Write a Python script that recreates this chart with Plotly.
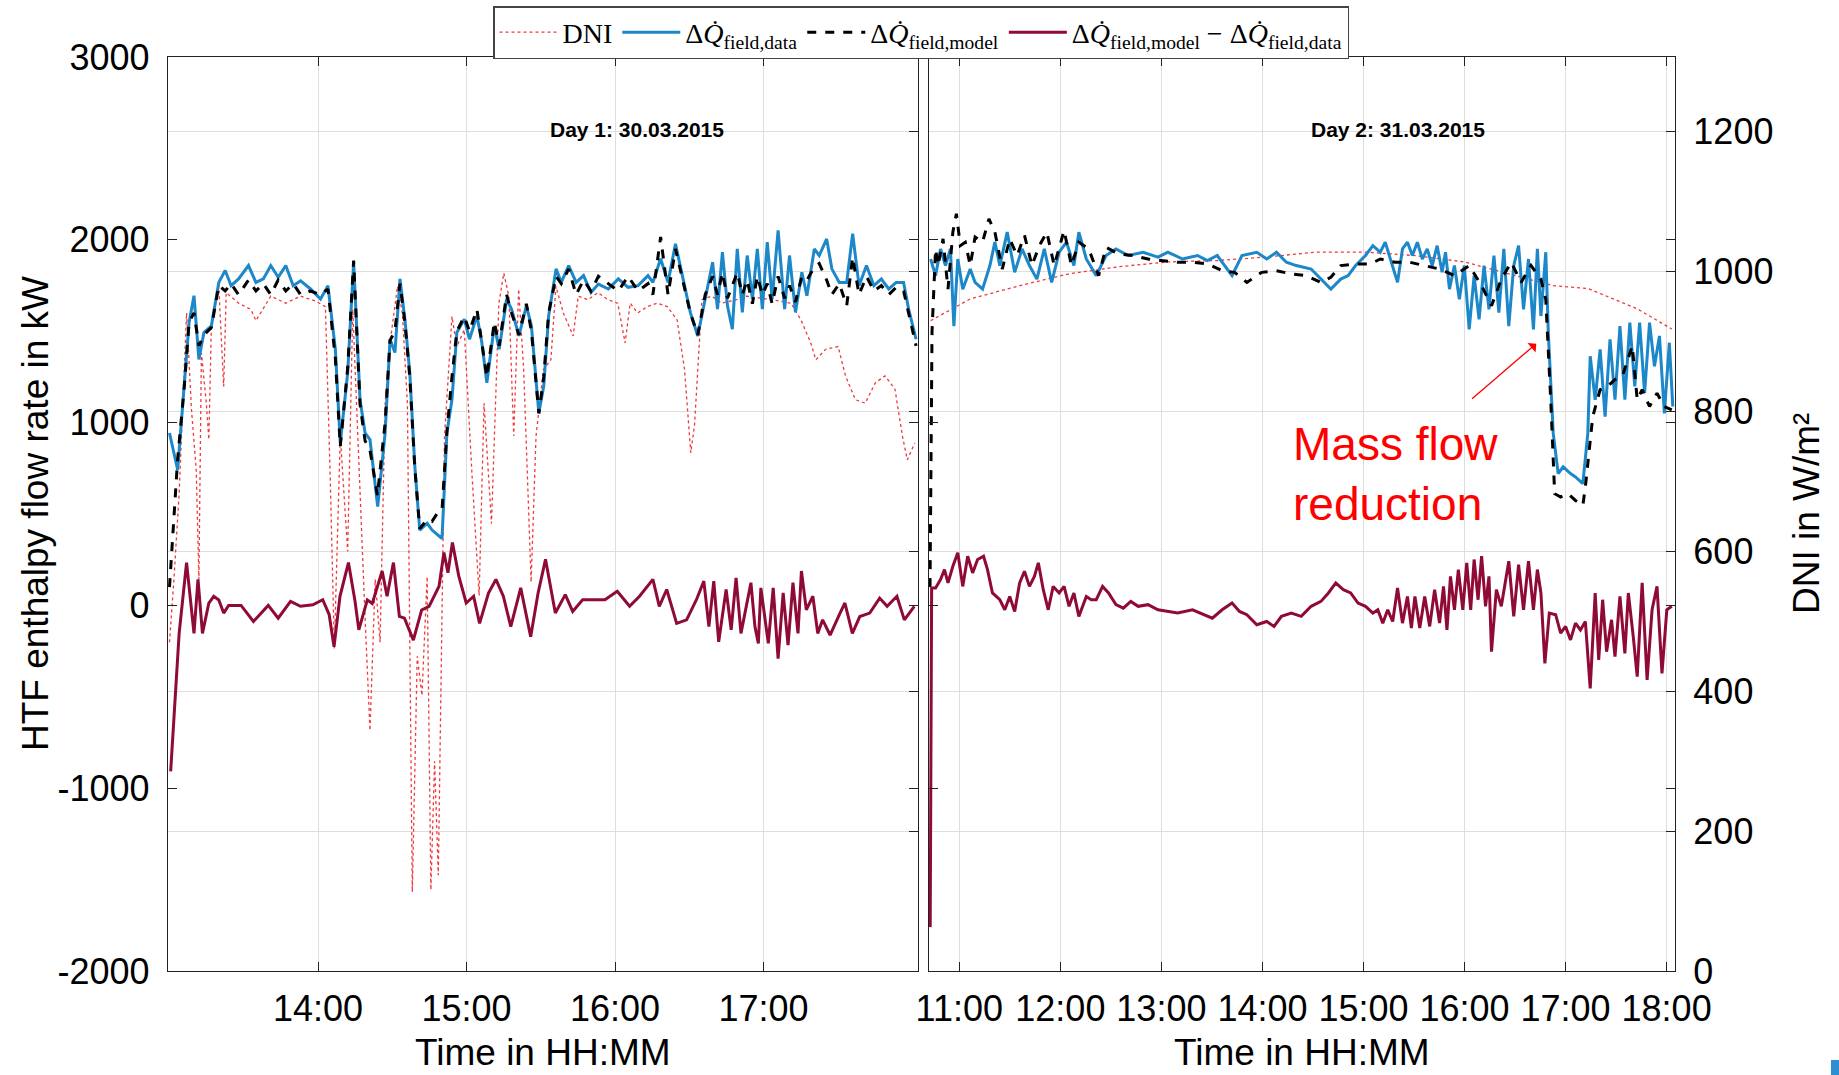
import plotly.graph_objects as go

# ---------------- Day 1: 30.03.2015 (time in decimal hours) ----------------
d1_dni_t = [13.000, 13.03, 13.065, 13.115, 13.148, 13.18, 13.198, 13.215, 13.248, 13.265, 13.282, 13.332,
            13.365, 13.382, 13.465, 13.548, 13.582, 13.682, 13.783, 13.883, 13.983, 14.05, 14.083, 14.11,
            14.15, 14.20, 14.234, 14.284, 14.318, 14.35, 14.385, 14.418, 14.452, 14.485, 14.535, 14.568,
            14.602, 14.635, 14.668, 14.70, 14.735, 14.76, 14.785, 14.81, 14.852, 14.902, 14.935, 14.985,
            15.035, 15.085, 15.118, 15.168, 15.218, 15.251, 15.285, 15.318, 15.351, 15.385, 15.435, 15.468,
            15.518, 15.568, 15.602, 15.652, 15.718, 15.752, 15.818, 15.885, 15.952, 16.018, 16.068, 16.102,
            16.152, 16.218, 16.285, 16.352, 16.418, 16.468, 16.51, 16.535, 16.585, 16.652, 16.718, 16.818,
            16.885, 17.052, 17.185, 17.252, 17.318, 17.352, 17.418, 17.502, 17.552, 17.618, 17.685, 17.752,
            17.818, 17.885, 17.935, 17.968, 18.018]
d1_dni = [470, 560, 683, 941, 803, 717, 560, 884, 812, 760, 922, 979,
          836, 970, 955, 946, 930, 965, 955, 965, 958, 950, 700, 461,
          765, 600, 946, 669, 500, 344, 560, 470, 812, 898, 979, 941,
          812, 113, 450, 394, 564, 116, 300, 137, 765, 936, 893, 917,
          717, 537, 812, 640, 955, 998, 965, 765, 975, 860, 556, 765,
          860, 874, 979, 941, 908, 965, 960, 970, 960, 955, 898, 955,
          941, 950, 955, 950, 931, 860, 741, 780, 960, 965, 955, 960,
          965, 960, 955, 931, 898, 874, 889, 893, 851, 817, 812, 841,
          851, 832, 765, 731, 755]

d1_data_t = [13.000, 13.055, 13.132, 13.165, 13.198, 13.232, 13.282, 13.332, 13.375, 13.415, 13.465, 13.532,
             13.582, 13.632, 13.682, 13.732, 13.783, 13.833, 13.883, 13.95, 14.017, 14.067, 14.117, 14.15,
             14.2, 14.24, 14.283, 14.317, 14.35, 14.402, 14.452, 14.485, 14.518, 14.552, 14.585, 14.618,
             14.652, 14.685, 14.735, 14.768, 14.835, 14.868, 14.902, 14.935, 14.985, 15.02, 15.07, 15.103,
             15.137, 15.187, 15.22, 15.27, 15.303, 15.353, 15.403, 15.437, 15.487, 15.52, 15.553, 15.603,
             15.638, 15.688, 15.738, 15.788, 15.838, 15.888, 15.955, 16.022, 16.088, 16.155, 16.222, 16.255,
             16.307, 16.357, 16.407, 16.457, 16.507, 16.557, 16.607, 16.657, 16.69, 16.723, 16.757, 16.79,
             16.823, 16.857, 16.89, 16.925, 16.958, 16.992, 17.025, 17.058, 17.098, 17.142, 17.175, 17.215,
             17.258, 17.292, 17.342, 17.375, 17.425, 17.46, 17.51, 17.56, 17.6, 17.643, 17.693, 17.743,
             17.793, 17.843, 17.893, 17.943, 17.977, 18.027]
d1_data = [943, 742, 1548, 1694, 1346, 1493, 1529, 1767, 1832, 1749, 1786, 1859,
           1767, 1786, 1859, 1795, 1859, 1749, 1776, 1731, 1676, 1749, 1401, 888,
           1273, 1877, 1126, 943, 907, 540, 943, 1456, 1383, 1786, 1566, 1273,
           760, 412, 449, 412, 366, 943, 1126, 1493, 1566, 1456, 1584, 1438,
           1218, 1529, 1401, 1676, 1621, 1474, 1639, 1529, 1053, 1200, 1584, 1841,
           1767, 1859, 1767, 1804, 1712, 1758, 1731, 1786, 1740, 1749, 1804, 1767,
           1896, 1767, 1978, 1786, 1603, 1474, 1676, 1877, 1621, 1932, 1639, 1511,
           1950, 1603, 1914, 1676, 1950, 1621, 1987, 1676, 2051, 1621, 1914, 1603,
           1822, 1694, 1950, 1914, 2005, 1841, 1767, 1767, 2033, 1749, 1859, 1749,
           1786, 1731, 1767, 1767, 1621, 1456]

d1_model_t = [13.000, 13.033, 13.055, 13.10, 13.132, 13.165, 13.198, 13.232, 13.282, 13.332, 13.375, 13.415,
              13.465, 13.532, 13.582, 13.632, 13.682, 13.732, 13.783, 13.833, 13.883, 13.95, 14.017, 14.067,
              14.117, 14.15, 14.20, 14.24, 14.283, 14.317, 14.35, 14.40, 14.452, 14.485, 14.518, 14.552,
              14.585, 14.618, 14.652, 14.685, 14.735, 14.768, 14.80, 14.835, 14.868, 14.902, 14.935, 14.985,
              15.02, 15.07, 15.103, 15.137, 15.187, 15.22, 15.27, 15.303, 15.353, 15.403, 15.437, 15.487,
              15.52, 15.553, 15.603, 15.638, 15.688, 15.738, 15.788, 15.838, 15.888, 15.955, 16.022, 16.088,
              16.155, 16.222, 16.255, 16.307, 16.357, 16.407, 16.457, 16.507, 16.557, 16.607, 16.657, 16.69,
              16.723, 16.757, 16.79, 16.823, 16.857, 16.89, 16.925, 16.958, 16.992, 17.025, 17.058, 17.098,
              17.142, 17.175, 17.215, 17.258, 17.292, 17.342, 17.375, 17.425, 17.46, 17.51, 17.56, 17.6,
              17.643, 17.693, 17.743, 17.793, 17.843, 17.893, 17.943, 17.977, 18.027]
d1_model = [100, 500, 800, 1200, 1550, 1600, 1420, 1480, 1520, 1750, 1720, 1760,
            1700, 1780, 1720, 1760, 1700, 1780, 1720, 1760, 1700, 1720, 1700, 1730,
            1350, 870, 1300, 1886, 1100, 900, 850, 600, 1000, 1450, 1500, 1760,
            1550, 1250, 750, 420, 470, 460, 500, 520, 950, 1250, 1500, 1580,
            1500, 1620, 1450, 1250, 1550, 1420, 1700, 1600, 1480, 1650, 1500, 1050,
            1250, 1600, 1800, 1760, 1840, 1700, 1780, 1720, 1800, 1760, 1720, 1800,
            1720, 1760, 1700, 2015, 1700, 1950, 1780, 1600, 1480, 1700, 1800, 1700,
            1820, 1680, 1750, 1820, 1700, 1780, 1650, 1800, 1700, 1760, 1650, 1800,
            1680, 1750, 1660, 1800, 1780, 1850, 1870, 1780, 1700, 1760, 1640, 1905,
            1700, 1800, 1720, 1750, 1700, 1740, 1720, 1600, 1420]

d1_diff_t = [13.008, 13.065, 13.115, 13.165, 13.192, 13.222, 13.265, 13.298, 13.332, 13.365, 13.398, 13.482,
             13.565, 13.665, 13.732, 13.815, 13.882, 13.965, 14.032, 14.075, 14.108, 14.148, 14.205, 14.248,
             14.275, 14.332, 14.365, 14.432, 14.465, 14.508, 14.548, 14.582, 14.642, 14.698, 14.748, 14.815,
             14.848, 14.875, 14.905, 14.948, 14.998, 15.048, 15.088, 15.148, 15.198, 15.248, 15.298, 15.365,
             15.432, 15.482, 15.532, 15.598, 15.665, 15.715, 15.782, 15.848, 15.932, 16.015, 16.098, 16.165,
             16.255, 16.298, 16.348, 16.415, 16.482, 16.548, 16.598, 16.632, 16.665, 16.698, 16.748, 16.782,
             16.815, 16.848, 16.882, 16.915, 16.942, 16.965, 16.982, 17.032, 17.065, 17.098, 17.132, 17.165,
             17.198, 17.232, 17.255, 17.288, 17.332, 17.365, 17.398, 17.448, 17.515, 17.548, 17.598, 17.648,
             17.715, 17.782, 17.832, 17.898, 17.948, 18.015]
d1_diff = [-908, -153, 234, -153, 142, -153, 13, 50, 30, -42, 0, 0,
           -88, 0, -70, 22, -5, 3, 31, -50, -227, 50, 234, 30,
           -134, 30, 10, 188, 50, 234, -60, -70, -190, -25, -5, 105,
           289, 179, 344, 160, 13, 50, -98, 68, 142, 50, -116, 96,
           -171, 68, 252, -42, 59, -33, 31, 31, 31, 77, -5, 50,
           142, -5, 87, -98, -79, 31, 133, -116, 133, -199, 87, -134,
           151, -153, -5, 124, -116, -208, 96, -208, 96, -291, 68, -217,
           124, -153, 188, -24, 50, -153, -79, -162, -42, 13, -153, -61,
           -42, 40, -5, 50, -79, -5]

# ---------------- Day 2: 31.03.2015 ----------------
d2_dni_t = [10.716, 11.108, 11.597, 12.086, 12.575, 13.064, 13.553, 14.042, 14.531, 15.02, 15.509,
            15.998, 16.487, 16.878, 17.22, 17.465, 17.709, 18.051]
d2_dni = [930, 961, 980, 997, 1007, 1014, 1016, 1021, 1028, 1028, 1023,
          1014, 995, 980, 976, 961, 947, 918]

d2_data_t = [10.716, 10.765, 10.814, 10.863, 10.912, 10.946, 10.985, 11.034, 11.108, 11.156, 11.23, 11.303,
             11.352, 11.401, 11.474, 11.548, 11.621, 11.694, 11.768, 11.841, 11.914, 11.988, 12.061, 12.134,
             12.183, 12.257, 12.355, 12.452, 12.55, 12.672, 12.819, 12.966, 13.064, 13.21, 13.357, 13.455,
             13.553, 13.699, 13.797, 13.944, 14.042, 14.139, 14.237, 14.335, 14.482, 14.579, 14.677, 14.775,
             14.848, 14.922, 15.02, 15.093, 15.166, 15.215, 15.289, 15.337, 15.386, 15.435, 15.484, 15.533,
             15.582, 15.631, 15.68, 15.729, 15.778, 15.812, 15.851, 15.9, 15.949, 15.998, 16.046, 16.095,
             16.144, 16.193, 16.242, 16.291, 16.34, 16.389, 16.438, 16.487, 16.535, 16.584, 16.633, 16.682,
             16.721, 16.756, 16.804, 16.829, 16.878, 16.927, 16.976, 17.049, 17.098, 17.171, 17.22, 17.244,
             17.293, 17.342, 17.391, 17.44, 17.489, 17.538, 17.587, 17.636, 17.685, 17.733, 17.782, 17.831,
             17.88, 17.929, 17.978, 18.027, 18.061]
d2_data = [1895, 1804, 1950, 1859, 1950, 1528, 1895, 1730, 1840, 1767, 1730, 1859,
           1987, 1859, 2042, 1822, 1950, 1859, 1785, 1950, 1767, 1932, 1987, 1859,
           2042, 1895, 1804, 1914, 1950, 1914, 1932, 1905, 1932, 1895, 1914, 1886,
           1914, 1804, 1914, 1932, 1895, 1932, 1877, 1859, 1840, 1785, 1730, 1785,
           1804, 1859, 1914, 1968, 1932, 1987, 1859, 1767, 1950, 1987, 1914, 1987,
           1895, 1950, 1859, 1968, 1822, 1932, 1730, 1859, 1675, 1859, 1510, 1804,
           1565, 1859, 1620, 1914, 1602, 1950, 1528, 1859, 1968, 1620, 1895, 1510,
           1950, 1583, 1932, 1492, 941, 721, 758, 721, 703, 666, 941, 1363,
           1125, 1400, 1033, 1455, 1125, 1528, 1125, 1547, 1198, 1547, 1161, 1547,
           1308, 1474, 1051, 1437, 1088]

d2_model_t = [10.710, 10.73, 10.765, 10.79, 10.839, 10.888, 10.936, 10.971, 11.01, 11.059, 11.108, 11.156,
              11.23, 11.293, 11.352, 11.425, 11.499, 11.572, 11.645, 11.719, 11.792, 11.866, 11.939, 12.037,
              12.11, 12.183, 12.281, 12.379, 12.452, 12.575, 12.721, 12.868, 13.015, 13.161, 13.308, 13.455,
              13.601, 13.724, 13.846, 13.993, 14.139, 14.286, 14.433, 14.579, 14.677, 14.775, 14.922, 15.068,
              15.166, 15.313, 15.46, 15.606, 15.753, 15.9, 16.046, 16.169, 16.267, 16.364, 16.462, 16.56,
              16.658, 16.756, 16.804, 16.853, 16.892, 16.951, 17.024, 17.098, 17.171, 17.196, 17.269, 17.342,
              17.416, 17.489, 17.562, 17.66, 17.709, 17.758, 17.831, 17.905, 17.978, 18.051]
d2_model = [100, 1500, 1950, 1859, 2005, 1730, 2042, 2143, 1968, 1987, 1859, 2015,
            1987, 2115, 2042, 1840, 2005, 1914, 2024, 1859, 1968, 2042, 1859, 2051,
            1859, 1987, 1950, 1804, 1959, 1923, 1914, 1895, 1886, 1877, 1877, 1868,
            1831, 1822, 1767, 1822, 1831, 1813, 1804, 1767, 1795, 1859, 1868, 1868,
            1895, 1877, 1877, 1859, 1840, 1804, 1859, 1749, 1639, 1785, 1877, 1767,
            1859, 1785, 1675, 1125, 611, 593, 611, 574, 547, 648, 1033, 1180,
            1198, 1235, 1253, 1420, 1125, 1180, 1088, 1161, 1088, 1070]

d2_diff_t = [10.712, 10.726, 10.765, 10.814, 10.853, 10.888, 10.936, 10.985, 11.034, 11.083, 11.132, 11.181,
             11.24, 11.279, 11.328, 11.401, 11.45, 11.499, 11.548, 11.597, 11.645, 11.694, 11.743, 11.782,
             11.831, 11.88, 11.929, 11.988, 12.037, 12.086, 12.134, 12.183, 12.257, 12.306, 12.355, 12.418,
             12.477, 12.55, 12.623, 12.697, 12.77, 12.868, 12.966, 13.064, 13.161, 13.308, 13.43, 13.504,
             13.601, 13.699, 13.773, 13.846, 13.944, 14.042, 14.115, 14.188, 14.286, 14.384, 14.482, 14.579,
             14.653, 14.726, 14.8, 14.873, 14.946, 15.02, 15.093, 15.142, 15.191, 15.24, 15.289, 15.337,
             15.386, 15.435, 15.474, 15.509, 15.557, 15.606, 15.655, 15.704, 15.753, 15.792, 15.826, 15.861,
             15.9, 15.939, 15.983, 16.022, 16.061, 16.095, 16.134, 16.169, 16.208, 16.242, 16.267, 16.315,
             16.364, 16.438, 16.487, 16.535, 16.584, 16.633, 16.682, 16.721, 16.756, 16.795, 16.839, 16.902,
             16.951, 17.0, 17.049, 17.098, 17.147, 17.196, 17.244, 17.293, 17.328, 17.367, 17.406, 17.455,
             17.489, 17.538, 17.587, 17.621, 17.67, 17.709, 17.758, 17.807, 17.856, 17.905, 17.954, 18.002,
             18.051]
d2_diff = [-1760, 95, 95, 141, 196, 123, 214, 288, 104, 269, 178, 251,
           269, 196, 68, 31, -24, 49, -33, 123, 187, 104, 159, 233,
           86, -24, 104, 68, 104, -5, 68, -60, 49, 31, 31, 104,
           68, 4, -15, 22, -5, 4, -24, -33, -42, -24, -51, -70,
           -24, 13, -33, -51, -106, -88, -115, -60, -42, -60, -5, 22,
           68, 123, 86, 68, 13, -5, -42, -24, -97, -24, -88, 95,
           -97, 49, -124, 49, -124, 49, -115, 86, -97, 104, -134, 159,
           -24, 196, -24, 233, -24, 251, 31, 269, -5, 159, -253, 86,
           -5, 242, -60, 223, -24, 242, -24, 196, 68, -317, -42, -51,
           -152, -115, -189, -97, -134, -88, -454, 68, -298, 31, -253, -79,
           -280, 49, -262, 68, -171, -390, 123, -408, -24, 104, -372, -24,
           -5]

# ---------------- Tick labels ----------------
x1_tickvals = [14, 15, 16, 17]
x1_ticktext = ["14:00", "15:00", "16:00", "17:00"]
x2_tickvals = [11, 12, 13, 14, 15, 16, 17, 18]
x2_ticktext = ["11:00", "12:00", "13:00", "14:00", "15:00", "16:00", "17:00", "18:00"]
kw_ticks = [-2000, -1000, 0, 1000, 2000, 3000]
kw_ticktext = ["-2000", "-1000", "0", "1000", "2000", "3000"]
dni_ticks = [0, 200, 400, 600, 800, 1000, 1200]
dni_ticktext = ["0", "200", "400", "600", "800", "1000", "1200"]

legend_names = ["DNI",
                "Δ<i>Q̇</i><sub>field,data</sub>",
                "Δ<i>Q̇</i><sub>field,model</sub>",
                "Δ<i>Q̇</i><sub>field,model</sub> − Δ<i>Q̇</i><sub>field,data</sub>"]

C_DNI = "#f0383c"
C_DATA = "#1c87c9"
C_MODEL = "#000000"
C_DIFF = "#900a36"

fig = go.Figure()

def add_day(xa, ya_dni, ya_kw, dni_t, dni, data_t, data, model_t, model, diff_t, diff, show):
    fig.add_trace(go.Scatter(x=dni_t, y=dni, mode="lines", name=legend_names[0], xaxis=xa, yaxis=ya_dni,
                             line=dict(color=C_DNI, width=1.3, dash="dot"), showlegend=show))
    fig.add_trace(go.Scatter(x=data_t, y=data, mode="lines", name=legend_names[1], xaxis=xa, yaxis=ya_kw,
                             line=dict(color=C_DATA, width=3), showlegend=show))
    fig.add_trace(go.Scatter(x=model_t, y=model, mode="lines", name=legend_names[2], xaxis=xa, yaxis=ya_kw,
                             line=dict(color=C_MODEL, width=3, dash="dash"), showlegend=show))
    fig.add_trace(go.Scatter(x=diff_t, y=diff, mode="lines", name=legend_names[3], xaxis=xa, yaxis=ya_kw,
                             line=dict(color=C_DIFF, width=3), showlegend=show))

add_day("x", "y", "y2", d1_dni_t, d1_dni, d1_data_t, d1_data, d1_model_t, d1_model, d1_diff_t, d1_diff, True)
add_day("x2", "y3", "y4", d2_dni_t, d2_dni, d2_data_t, d2_data, d2_model_t, d2_model, d2_diff_t, d2_diff, False)

W, H = 1839, 1075
ydom = [1 - 971 / H, 1 - 57 / H]
dom1 = [168 / W, 918 / W]
dom2 = [929 / W, 1675 / W]
tickfont = dict(family="Arial, Liberation Sans, sans-serif", size=36, color="#000")
GRID = "#dedede"
common_x = dict(showline=True, linecolor="#222", linewidth=1.3, mirror="ticks", ticks="inside", ticklen=9,
                tickcolor="#222", showgrid=True, gridcolor=GRID, gridwidth=1, zeroline=False,
                tickfont=tickfont, ticklabelstandoff=6, automargin=False)
dni_axis = dict(range=[0, 1307], tickvals=dni_ticks, ticktext=dni_ticktext, showgrid=True, gridcolor=GRID,
                gridwidth=1, zeroline=False, ticks="inside", ticklen=9, tickcolor="#222", showline=True,
                linecolor="#222", linewidth=1.3, tickfont=tickfont, domain=ydom, side="right",
                automargin=False)
kw_axis = dict(range=[-2000, 3000], tickvals=kw_ticks, ticktext=kw_ticktext, showgrid=False, zeroline=False,
               ticks="inside", ticklen=9, tickcolor="#222", showline=True, linecolor="#222", linewidth=1.3,
               mirror="ticks", tickfont=tickfont, side="left", automargin=False)

fig.update_layout(
    width=W, height=H, margin=dict(l=0, r=0, t=0, b=0, autoexpand=False),
    paper_bgcolor="white", plot_bgcolor="white",
    xaxis=dict(domain=dom1, range=[12.99, 18.04], tickvals=x1_tickvals, ticktext=x1_ticktext, anchor="y",
               **common_x),
    xaxis2=dict(domain=dom2, range=[10.70, 18.083], tickvals=x2_tickvals, ticktext=x2_ticktext, anchor="y3",
                **common_x),
    yaxis=dict(anchor="x", showticklabels=False, **dni_axis),
    yaxis2=dict(anchor="x", overlaying="y", showticklabels=True, ticklabelstandoff=10, **kw_axis),
    yaxis3=dict(anchor="x2", showticklabels=True, ticklabelstandoff=10, **dni_axis),
    yaxis4=dict(anchor="x2", overlaying="y3", showticklabels=False, **kw_axis),
    legend=dict(orientation="h", x=493 / W, y=1 - 6 / H, xanchor="left", yanchor="top",
                bordercolor="#444", borderwidth=1.5, bgcolor="white",
                font=dict(family="Liberation Serif, DejaVu Serif, serif", size=28, color="#000"),
                itemwidth=58, tracegroupgap=0, traceorder="normal"),
    showlegend=True,
)

axis_font = dict(family="Arial, Liberation Sans, sans-serif", size=37, color="#000")
ymid = 1 - 514 / H
fig.add_annotation(text="HTF enthalpy flow rate in kW", x=35 / W, y=ymid, xref="paper", yref="paper",
                   textangle=-90, showarrow=False, font=axis_font, xanchor="center", yanchor="middle")
fig.add_annotation(text="DNI in W/m²", x=1806 / W, y=ymid, xref="paper", yref="paper",
                   textangle=-90, showarrow=False, font=axis_font, xanchor="center", yanchor="middle")
for xc in [543 / W, 1302 / W]:
    fig.add_annotation(text="Time in HH:MM", x=xc, y=1 - 1052 / H, xref="paper", yref="paper",
                       showarrow=False, font=axis_font, xanchor="center", yanchor="middle")

day_font = dict(family="Arial, Liberation Sans, sans-serif", size=21, color="#000")
fig.add_annotation(text="<b>Day 1: 30.03.2015</b>", x=637 / W, y=1 - 130 / H, xref="paper", yref="paper",
                   showarrow=False, font=day_font, xanchor="center", yanchor="middle")
fig.add_annotation(text="<b>Day 2: 31.03.2015</b>", x=1398 / W, y=1 - 130 / H, xref="paper", yref="paper",
                   showarrow=False, font=day_font, xanchor="center", yanchor="middle")

fig.add_annotation(text="Mass flow<br>reduction", x=14.28, y=720, xref="x2", yref="y4",
                   xanchor="left", yanchor="middle", align="left", showarrow=False,
                   font=dict(family="Arial, Liberation Sans, sans-serif", size=46, color="#ff0000"))
fig.add_annotation(text="", x=16.71, y=1432, ax=16.06, ay=1123, xref="x2", yref="y4", axref="x2", ayref="y4",
                   showarrow=True, arrowhead=1, arrowsize=1.6, arrowwidth=1.3, arrowcolor="#ff0000")

fig.add_shape(type="rect", xref="paper", yref="paper", x0=1831 / W, x1=1, y0=0, y1=15 / H,
              fillcolor="#2d8ed0", line=dict(width=0))

fig.write_html("out.html")
